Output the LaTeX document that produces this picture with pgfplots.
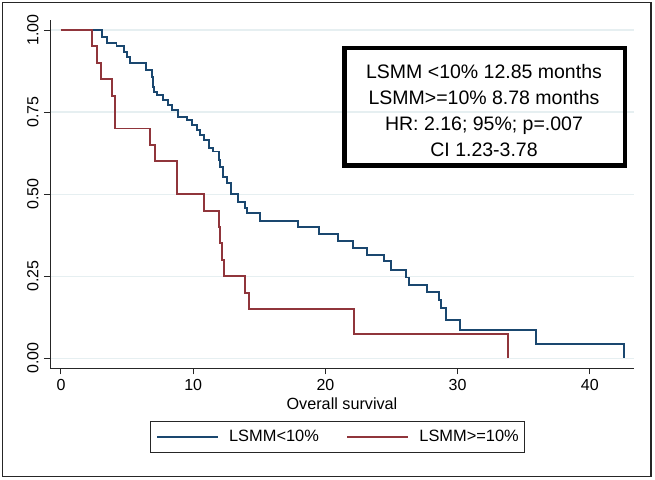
\documentclass[border=0pt]{standalone}
\usepackage{pgfplots}
\pgfplotsset{compat=1.18}
\usepackage{fontspec}
\setmainfont{Liberation Sans}
\definecolor{kmblue}{RGB}{26,71,111}
\definecolor{kmred}{RGB}{144,53,59}
\definecolor{gridc}{RGB}{230,239,241}
\begin{document}
\begin{tikzpicture}
\useasboundingbox (0,0) rectangle (655pt,479pt);
\draw[line width=1.5pt, black!85] (2.5pt,2.5pt) rectangle (651pt,476.5pt);
\begin{axis}[
 at={(50pt,110.7pt)}, anchor=south west,
 width=584pt, height=348.3pt, scale only axis,
 xmin=-0.83, xmax=43.34, ymin=-0.0305, ymax=1.0305,
 axis x line=bottom, axis y line=left,
 axis line style={-, line width=1pt, black!85},
 xtick={0,10,20,30,40}, xticklabels={0,10,20,30,40},
 ytick={0,0.25,0.5,0.75,1}, yticklabels={0.00,0.25,0.50,0.75,1.00},
 tick align=outside, major tick length=6pt,
 tick style={line width=1pt, black!85},
 ymajorgrids, grid style={gridc, line width=1.2pt},
 ticklabel style={font=\fontsize{16}{16}\selectfont},
 yticklabel style={rotate=90, anchor=south},
 yticklabel shift=2pt, xticklabel shift=1pt,
 xlabel={Overall survival},
 xlabel style={font=\fontsize{16.2}{16.2}\selectfont, at={(axis description cs:0.5,-0.1005)}, anchor=center},
 legend columns=2,
 legend image code/.code={\draw[#1] (0pt,0pt) -- (61pt,0pt);},
 legend style={at={(axis description cs:0.4923,-0.1968)}, anchor=center,
   draw=black!85, line width=0.8pt,
   font=\fontsize{16.4}{16.4}\selectfont,
   inner xsep=6pt, inner ysep=8pt,
   nodes={inner xsep=0pt, inner ysep=1pt},
   /tikz/every odd column/.append style={column sep=10pt},
   /tikz/every even column/.append style={column sep=27.6pt}},
 legend cell align=left,
]
\addplot[kmblue, line width=1.9pt, const plot] coordinates {
(0,1.0) (3.13,0.979) (3.5,0.960) (4.2,0.950) (4.77,0.934) (5.0,0.917) (5.22,0.899)
(6.4,0.878) (6.86,0.857) (6.95,0.827) (7.03,0.812) (7.29,0.802) (7.74,0.787)
(8.12,0.771) (8.37,0.756) (8.88,0.736) (9.5,0.726) (9.88,0.711) (10.26,0.695)
(10.51,0.680) (10.82,0.665) (11.22,0.640) (11.52,0.630) (11.95,0.605) (12.03,0.584)
(12.23,0.553) (12.53,0.533) (12.83,0.500) (13.41,0.477) (13.92,0.457) (14.04,0.442)
(15.05,0.419) (17.95,0.399) (19.54,0.379) (20.98,0.358) (22.06,0.337) (23.12,0.316)
(24.4,0.295) (24.96,0.269) (26.1,0.246) (26.3,0.223) (27.66,0.203) (28.6,0.178)
(28.72,0.152) (29.1,0.117) (30.2,0.086) (35.93,0.043) (42.6,0.0)
};
\addlegendentry{LSMM<10\%}
\addplot[kmred, line width=1.9pt, const plot] coordinates {
(0,1.0) (2.37,0.95) (2.7,0.90) (3.03,0.85) (3.86,0.80) (4.1,0.70) (6.76,0.65)
(7.1,0.60) (8.75,0.50) (10.82,0.45) (11.97,0.40) (12.05,0.35) (12.15,0.30)
(12.3,0.25) (13.92,0.20) (14.24,0.15) (22.19,0.075) (33.8,0.0)
};
\addlegendentry{LSMM>=10\%}
\end{axis}
\draw[line width=4.5pt, black] (344.5pt,431pt) rectangle (625pt,313.3pt);
\node[align=center, inner sep=0pt, font=\fontsize{19.5}{25.9}\selectfont]
  at (484pt,368.5pt) {LSMM <10\% 12.85 months\\LSMM>=10\% 8.78 months\\HR: 2.16; 95\%; p=.007\\CI 1.23-3.78};
\end{tikzpicture}
\end{document}
